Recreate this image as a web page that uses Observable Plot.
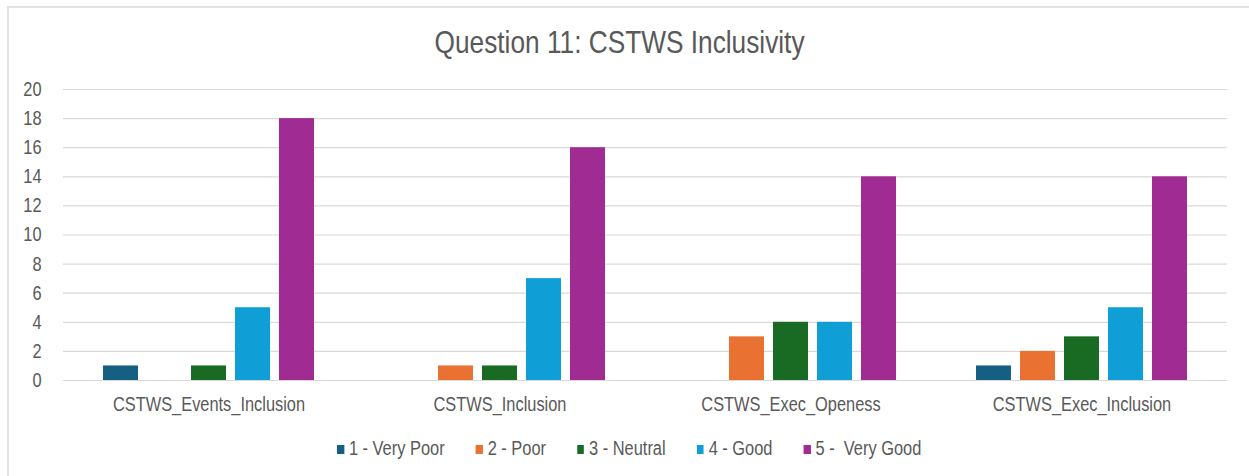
<!DOCTYPE html>
<html>
<head>
<meta charset="utf-8">
<script src="https://cdn.jsdelivr.net/npm/d3@7"></script>
<script src="https://cdn.jsdelivr.net/npm/@observablehq/plot@0.6"></script>
<style>
  html, body { margin: 0; padding: 0; background: #ffffff; overflow: hidden; }
  body { width: 1249px; height: 476px; position: relative;
         font-family: "Liberation Sans", Arial, sans-serif; color: #595959; }
  #frame { position: absolute; left: 7px; top: 6px; width: 1300px; height: 500px;
           border-left: 2px solid #e3e3e3; border-top: 2px solid #e3e3e3; box-sizing: border-box; }
  #title { position: absolute; left: 0; top: 27px; width: 1240px; text-align: center;
           font-size: 32px; line-height: 30px; color: #595959; }
  #title span { display: inline-block; transform: scaleX(0.82); transform-origin: 50% 50%; }
  #chart { position: absolute; left: 0; top: 75px; }
  #legend { position: absolute; left: 337px; top: 438px; display: flex; gap: 38px;
            font-size: 20px; line-height: 20px; white-space: pre;
            transform: scaleX(0.82); transform-origin: 0 0; }
  #legend .item { display: flex; align-items: center; gap: 6px; }
  #legend .sw { width: 8.5px; height: 9px; display: inline-block; margin-top: 3px; }
</style>
</head>
<body>
<div id="frame"></div>
<div id="title"><span>Question 11: CSTWS Inclusivity</span></div>
<div id="chart"></div>
<div id="legend"></div>
<script>
// Survey question categories
const categories = ["CSTWS_Events_Inclusion", "CSTWS_Inclusion", "CSTWS_Exec_Openess", "CSTWS_Exec_Inclusion"];
// Rating levels (series)
const ratings = ["1 - Very Poor", "2 - Poor", "3 - Neutral", "4 - Good", "5 -  Very Good"];
// Response counts per rating, one value per category
const veryPoor = [1, 0, 0, 1];
const poor     = [0, 1, 3, 2];
const neutral  = [1, 1, 4, 3];
const good     = [5, 7, 4, 5];
const veryGood = [18, 16, 14, 14];
// Series colours
const colors = ["#156082", "#E97132", "#196B24", "#0F9ED5", "#A02B93"];
// Y axis ticks
const yTicks = [0, 2, 4, 6, 8, 10, 12, 14, 16, 18, 20];

const series = [veryPoor, poor, neutral, good, veryGood];
const data = [];
categories.forEach((c, ci) => {
  ratings.forEach((r, ri) => {
    data.push({category: c, rating: r, value: series[ri][ci]});
  });
});

const chart = Plot.plot({
  width: 1249,
  height: 345,
  marginLeft: 62,
  marginRight: 21,
  marginTop: 14,
  marginBottom: 40,
  style: {fontFamily: '"Liberation Sans", Arial, sans-serif', fontSize: "20px", color: "#595959", background: "transparent"},
  fx: {domain: categories, padding: 0, label: null},
  x: {domain: ratings, paddingInner: 0.21, paddingOuter: 0.88, axis: null},
  y: {domain: [0, 20], label: null},
  color: {domain: ratings, range: colors},
  marks: [
    Plot.gridY(yTicks, {stroke: "#d9d9d9", strokeOpacity: 1, strokeWidth: 1.2}),
    Plot.axisY(yTicks, {tickSize: 0, tickPadding: 22, label: null, fill: "#595959"}),
    Plot.axisFx({anchor: "bottom", tickSize: 0, tickPadding: 16, label: null, fill: "#595959"}),
    Plot.barY(data.filter(d => d.value > 0), {fx: "category", x: "rating", y: "value", fill: "rating"})
  ]
});

// Condense axis text horizontally about each label's anchor point
chart.querySelectorAll("text").forEach(t => {
  const x = parseFloat(t.getAttribute("x")) || 0;
  const prev = t.getAttribute("transform") || "";
  t.setAttribute("transform", `${prev} translate(${x},0) scale(0.82,1) translate(${-x},0)`.trim());
});
document.getElementById("chart").appendChild(chart);

// Legend below the chart
const legend = d3.select("#legend");
ratings.forEach((r, i) => {
  const item = legend.append("div").attr("class", "item");
  item.append("span").attr("class", "sw").style("background", colors[i]);
  item.append("span").text(r);
});
</script>
</body>
</html>
